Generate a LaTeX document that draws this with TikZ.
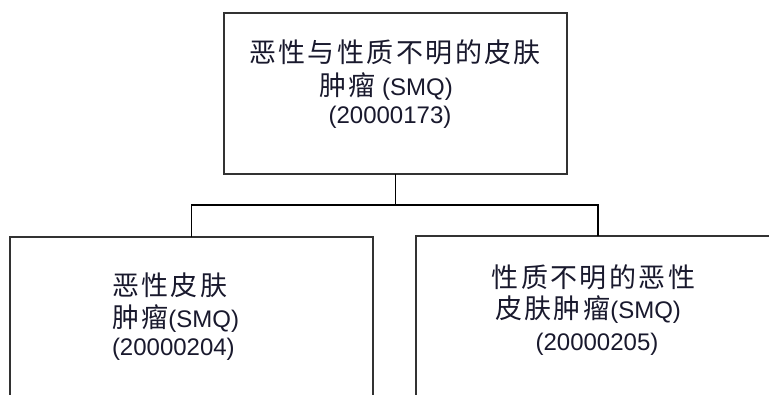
\documentclass[tikz,border=0pt]{standalone}
\usepackage{fontspec}
\usetikzlibrary{calc}
\setmainfont{Liberation Sans}
\newfontfamily\cjk[LetterSpace=9]{Noto Sans CJK SC}
\definecolor{boxline}{RGB}{50,50,50}
\definecolor{txt}{RGB}{25,25,45}
\tikzset{
  box/.style={draw=boxline, line width=1.6pt, fill=white, inner sep=0pt, outer sep=0pt},
  conn/.style={draw=black, line width=1.4pt},
  line/.style={inner sep=0pt, outer sep=0pt, anchor=base, font=\fontsize{24}{28}\selectfont, text=txt}
}
\newcommand{\zh}[1]{{\fontsize{27}{30}\cjk #1}}
\begin{document}
\begin{tikzpicture}[x=1pt,y=-1pt]
\clip (0,0) rectangle (769,394);
\fill[white] (0,0) rectangle (769,394);
% boxes
\node[box, minimum width=343pt, minimum height=161pt] (top) at (395.5,93.5) {};
\node[box, minimum width=363pt, minimum height=200pt, anchor=north] (left) at (191.5,237) {};
\node[box, minimum width=364pt, minimum height=200pt, anchor=north] (right) at (598,236) {};
% connectors
\coordinate (j) at ($(top.south)+(0,31)$);
\draw[conn] (top.south) -- (j);
\draw[conn] (j) -| (left.north);
\draw[conn] (j) -| (right.north);
% top texts
\node[line] (ta) at (395,62) {\zh{恶性与性质不明的皮肤}};
\node[line] (tb) at (386,95) {\zh{肿瘤} (SMQ)};
\node[line] (tc) at (390,123) {(20000173)};
% left texts
\node[line, anchor=base west] (la) at (112,295) {\zh{恶性皮肤}};
\node[line, anchor=base west] (lb) at (112,327) {\zh{肿瘤}(SMQ)};
\node[line, anchor=base west] (lc) at (112,355) {(20000204)};
% right texts
\node[line] (ra) at (593.5,287) {\zh{性质不明的恶性}};
\node[line] (rb) at (588,318) {\zh{皮肤肿瘤}(SMQ)};
\node[line] (rc) at (597,350) {(20000205)};
\end{tikzpicture}
\end{document}
